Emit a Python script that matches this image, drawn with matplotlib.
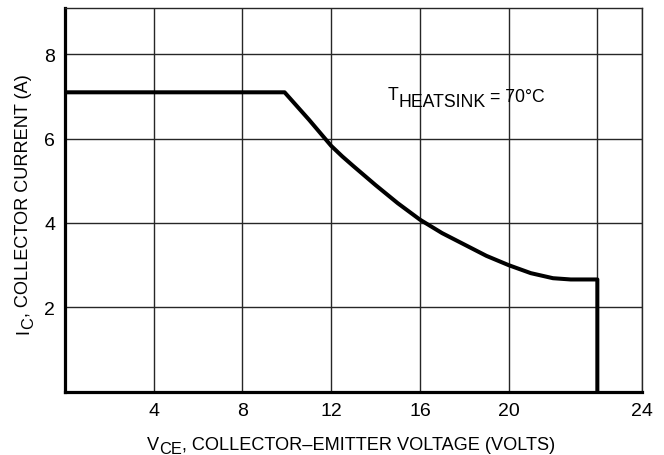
import matplotlib
matplotlib.use('Agg')
import matplotlib.pyplot as plt
from matplotlib.transforms import IdentityTransform

# ---- data ----
vce = [0, 9.9, 11, 11.5, 12, 12.5, 13, 14, 15, 16, 17, 18, 19, 20, 21, 22, 22.8, 24, 24]
ic = [7.1, 7.1, 6.45, 6.14, 5.83, 5.58, 5.35, 4.90, 4.47, 4.08, 3.76, 3.49, 3.22, 3.0, 2.81, 2.69, 2.66, 2.66, 0]
x_tick_pos = [4, 8, 12, 16, 20, 26]
x_tick_labels = ['4', '8', '12', '16', '20', '24']
x_extra_grid = [24]
y_ticks = [2, 4, 6, 8]
y_tick_labels = ['2', '4', '6', '8']

FAM = ['Liberation Sans Narrow', 'Liberation Sans', 'DejaVu Sans']
plt.rcParams['font.family'] = FAM
FS = 13.1
TFS = 14.0

W, H = 664, 456
fig = plt.figure(figsize=(W / 100, H / 100), dpi=100)
ax = fig.add_axes([65 / W, 1 - 392.6 / H, (641.7 - 65) / W, (392.6 - 9) / H])
ax.set_xlim(0, 26)
ax.set_ylim(0, 9.1)

ax.set_xticks(x_tick_pos)
ax.set_xticklabels(x_tick_labels)
ax.set_xticks(x_extra_grid, minor=True)
ax.set_yticks(y_ticks)
ax.set_yticklabels(y_tick_labels)
ax.tick_params(which='both', length=0, labelsize=TFS)
ax.tick_params(axis='x', pad=7.5)
ax.tick_params(axis='y', pad=7)
ax.grid(which='both', color='#262626', linewidth=1.0)
ax.set_axisbelow(True)

for s in ['left', 'bottom']:
    ax.spines[s].set_linewidth(2.3)
    ax.spines[s].set_color('black')
for s in ['top', 'right']:
    ax.spines[s].set_linewidth(1.0)
    ax.spines[s].set_color('#262626')

ax.plot(vce, ic, color='black', linewidth=2.9, solid_joinstyle='round',
        solid_capstyle='butt', zorder=3)

fig.canvas.draw()
renderer = fig.canvas.get_renderer()


def width_of(s, size):
    t = fig.text(0, 0, s, fontsize=size, transform=IdentityTransform())
    w = t.get_window_extent(renderer).width
    t.remove()
    return w


def rich(pieces, x, y, rotation=0, center=True):
    """pieces: (text, size, drop_px, gap_px). x,y in image pixels (top-left origin)."""
    widths = [width_of(p[0], p[1]) + p[3] for p in pieces]
    total = sum(widths)
    yd = H - y
    start = -total / 2 if center else 0
    cum = start
    for (s, size, drop, gap), w in zip(pieces, widths):
        cum += gap
        if rotation == 0:
            px, py = x + cum, yd - drop
        else:
            px, py = x + drop, yd + cum
        fig.text(px, py, s, fontsize=size, ha='left', va='baseline',
                 rotation=rotation, rotation_mode='anchor',
                 transform=IdentityTransform())
        cum += w - gap


# x label
rich([('V', FS, 0, 0), ('CE', FS * 0.9, 4.5, 0),
      (', COLLECTOR\u2013EMITTER VOLTAGE (VOLTS)', FS, 0, 0)],
     351, 450)

# y label
rich([('I', FS, 0, 0), ('C', FS * 0.9, 5, 0),
      (', COLLECTOR CURRENT (A)', FS, 0, 0)],
     28, 204, rotation=90)

# annotation
rich([('T', FS * 0.97, 0, 0), ('HEATSINK', FS * 0.97, 6.7, 0),
      ('= 70\u00b0C', FS * 0.97, 2, 4)],
     388, 100, center=False)

fig.savefig('out.png', dpi=100)
